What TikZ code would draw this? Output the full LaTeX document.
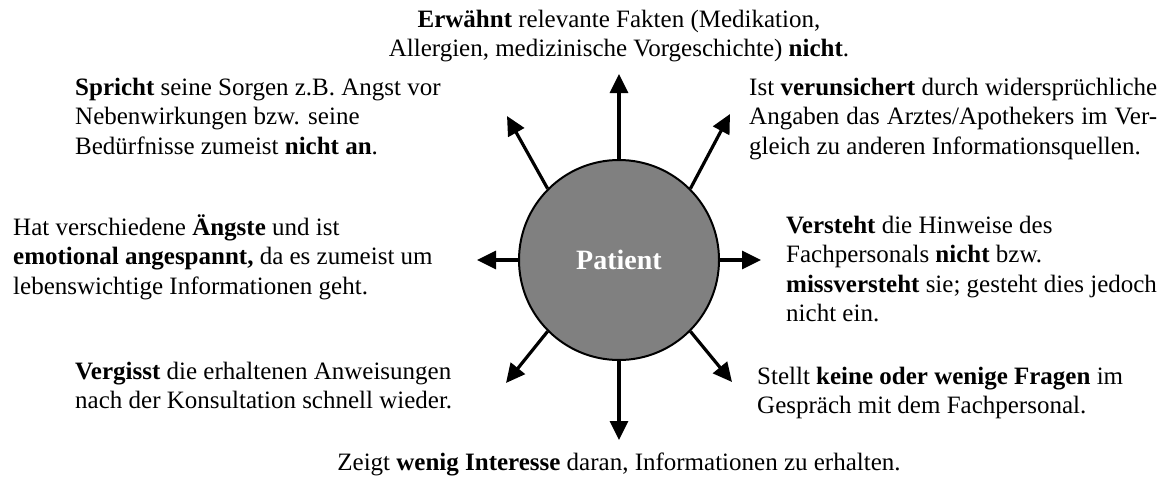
\documentclass[tikz,border=0pt]{standalone}
\usepackage{fontspec}
\setmainfont{Liberation Serif}
\usetikzlibrary{arrows.meta}
\newcommand{\topstrut}{\rule{0pt}{23pt}}

\begin{document}
\begin{tikzpicture}[x=1pt,y=-1pt,
  txt/.style={inner sep=0pt,align=left,font=\fontsize{25}{29.5}\selectfont},
  ray/.style={line width=3.2pt,-{Triangle[length=19pt,width=18pt]}}]
  \useasboundingbox (0,0) rectangle (1169,479);
  %center
  \node[circle,draw,line width=2pt,fill={rgb,255:red,128;green,128;blue,128},minimum size=200pt,inner sep=0pt,text=white,font=\fontsize{28}{30}\selectfont\bfseries] (patient) at (619,260) {Patient};
  %arrow tips
  \coordinate (tipn) at (619,74);
  \coordinate (tips) at (619,440);
  \coordinate (tipw) at (477,260);
  \coordinate (tipe) at (761,260);
  \coordinate (tipnw) at (507,116);
  \coordinate (tipne) at (730,114);
  \coordinate (tipsw) at (506,383);
  \coordinate (tipse) at (732,382);
  %arrows
  \draw[ray] (patient.north) -- (tipn);
  \draw[ray] (patient.south) -- (tips);
  \draw[ray] (patient.west) -- (tipw);
  \draw[ray] (patient.east) -- (tipe);
  \draw[ray] (patient.135) -- (tipnw);
  \draw[ray] (patient.45) -- (tipne);
  \draw[ray] (patient.225) -- (tipsw);
  \draw[ray] (patient.-45) -- (tipse);
  %texts
  \node[txt,align=center,anchor=north] (erwaehnt) at (619,4) {\topstrut\textbf{Erwähnt} relevante Fakten (Medikation,\\ Allergien, medizinische Vorgeschichte) \textbf{nicht}.};
  \node[txt,anchor=north west] (spricht) at (75,72) {\topstrut\textbf{Spricht} seine Sorgen z.B. Angst vor\\ Nebenwirkungen bzw. seine\\ Bedürfnisse zumeist \textbf{nicht an}.};
  \node[txt,align=justify,text width=408pt,anchor=north west] (verunsichert) at (749,72) {\topstrut Ist \textbf{verunsichert} durch widersprüchliche\linebreak Angaben das Arztes/Apothekers im Ver-\linebreak gleich zu anderen Informationsquellen.};
  \node[txt,anchor=north west] (aengste) at (13,212) {\topstrut Hat verschiedene \textbf{Ängste} und ist\\ \textbf{emotional angespannt,} da es zumeist um\\ lebenswichtige Informationen geht.};
  \node[txt,anchor=north west] (versteht) at (786,210) {\topstrut\textbf{Versteht} die Hinweise des\\ Fachpersonals \textbf{nicht} bzw.\\ \textbf{missversteht} sie; gesteht dies jedoch\\ nicht ein.};
  \node[txt,anchor=north west] (vergisst) at (75,356) {\topstrut\textbf{Vergisst} die erhaltenen Anweisungen\\ nach der Konsultation schnell wieder.};
  \node[txt,anchor=north west] (fragen) at (757,361) {\topstrut Stellt \textbf{keine oder wenige Fragen} im\\ Gespräch mit dem Fachpersonal.};
  \node[txt,align=center,anchor=north] (interesse) at (619,447) {\topstrut Zeigt \textbf{wenig Interesse} daran, Informationen zu erhalten.};
\end{tikzpicture}
\end{document}
